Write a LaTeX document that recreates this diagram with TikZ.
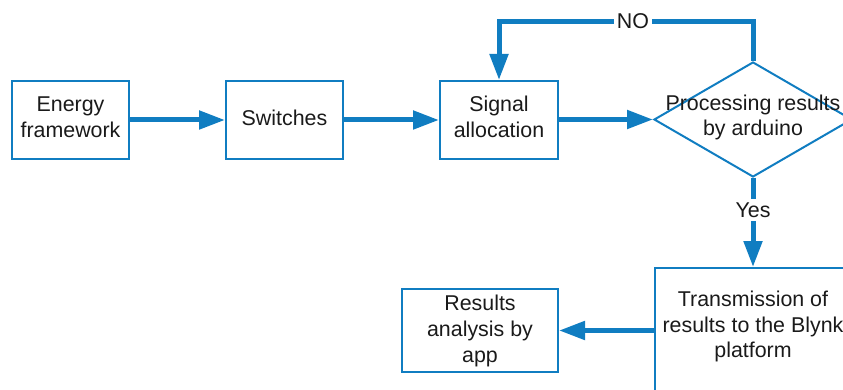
\documentclass[tikz,border=0pt]{standalone}
\usepackage{fontspec}
\setmainfont{Liberation Sans}
\usetikzlibrary{arrows.meta,shapes.geometric}
\definecolor{flowblue}{RGB}{16,125,193}
\definecolor{txt}{RGB}{26,26,26}
\begin{document}
\begin{tikzpicture}[x=1pt,y=-1pt,
  every node/.style={font=\fontsize{21.4}{25.8}\selectfont, text=txt, align=center},
  box/.style={draw=flowblue, line width=2pt, rectangle, inner sep=0pt},
  flow/.style={draw=flowblue, line width=5pt, -{Triangle[length=26pt,width=18pt]}},
  lbl/.style={fill=white, inner sep=2.5pt}]
\useasboundingbox (0,0) rectangle (843,390);
\clip (0,0) rectangle (843,390);
\node[box, minimum width=117pt, minimum height=78pt] (energy) at (70.5,120) {};
\node (energytext) at (70.5,117.5) {Energy\\framework};
\node[box, minimum width=117pt, minimum height=78pt] (switches) at (284.5,120) {};
\node (switchestext) at (284.5,118) {Switches};
\node[box, minimum width=118pt, minimum height=78pt] (signal) at (499,120) {};
\node (signaltext) at (499,117) {Signal\\allocation};
\node[diamond, draw=flowblue, line width=2pt, minimum width=198pt, minimum height=115pt, inner sep=0pt] (proc) at (753,119.5) {};
\node (proctext) at (753,117.5) {Processing results\\by arduino};
\node[box, minimum width=196pt, minimum height=150pt] (trans) at (753,343) {};
\node (transtext) at (753,326.5) {Transmission of\\results to the Blynk\\platform};
\node[box, minimum width=156pt, minimum height=83pt] (results) at (480,330.5) {};
\node (resultstext) at (480,331) {Results\\analysis by\\app};
\coordinate (noy) at (0,22);
\draw[flow] (energy.east) -- (switches.west);
\draw[flow] (switches.east) -- (signal.west);
\draw[flow] (signal.east |- proc.west) -- (proc.west);
\draw[flow] (proc.north) -- (proc.north |- noy) -| (signal.north);
\node[lbl] (no) at (633,21) {NO};
\draw[flow] (proc.south) -- (trans.north);
\node[lbl, inner sep=4pt] (yes) at (753,210) {Yes};
\draw[flow] (trans.west |- results.east) -- (results.east);
\end{tikzpicture}
\end{document}
